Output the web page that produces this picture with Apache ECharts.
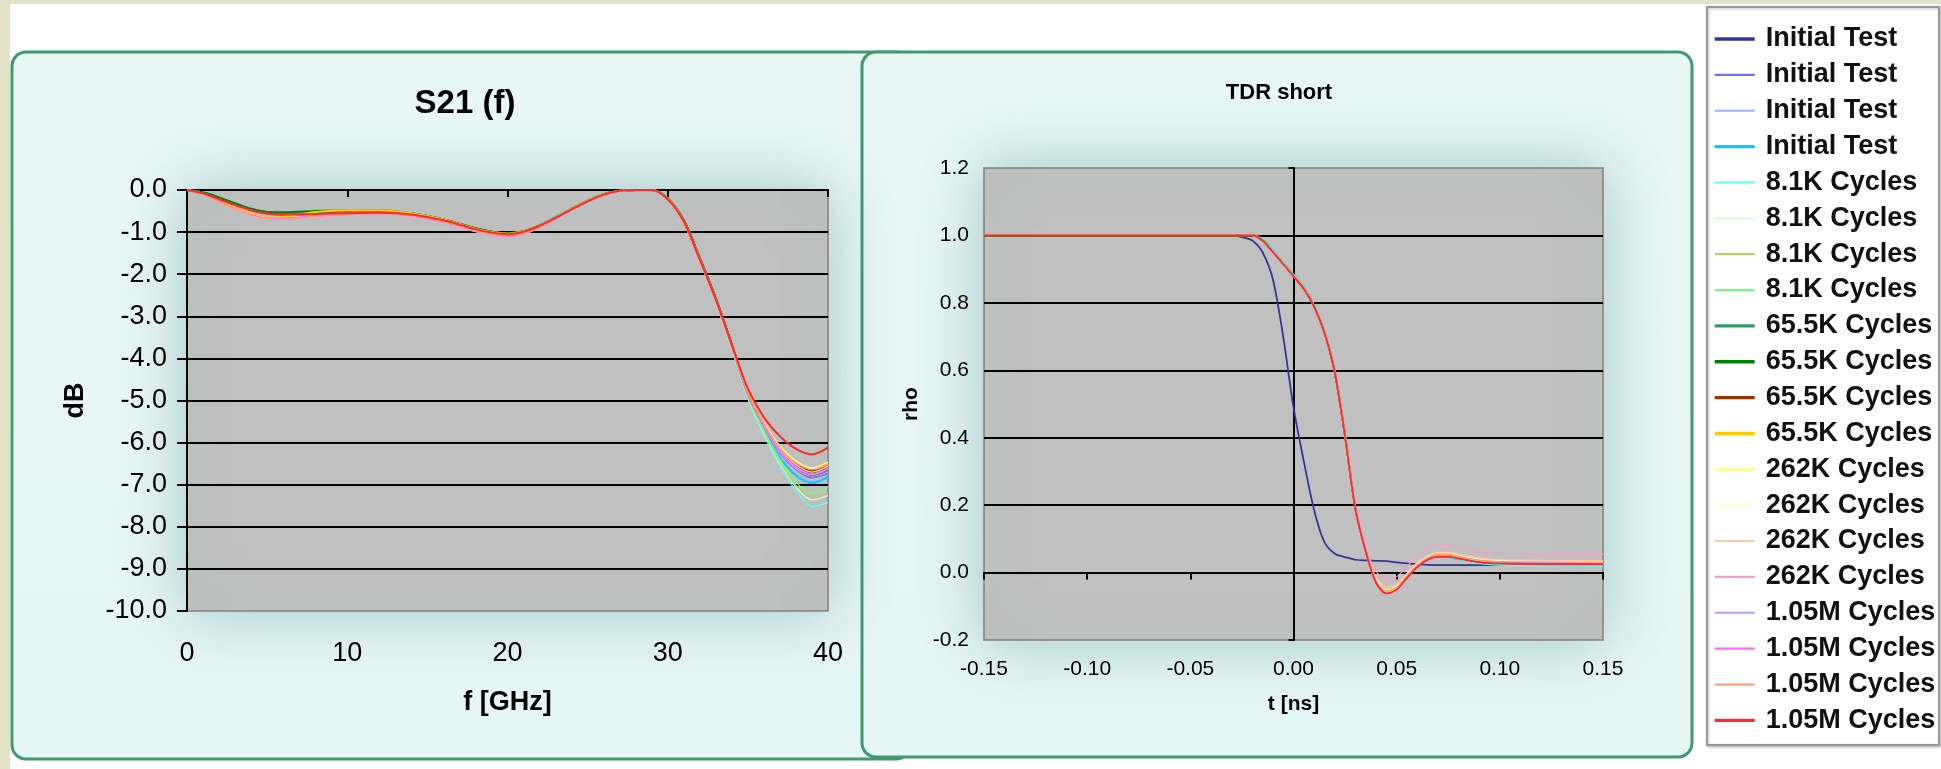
<!DOCTYPE html>
<html>
<head>
<meta charset="utf-8">
<title>S21 (f) / TDR short</title>
<script src="https://cdn.jsdelivr.net/npm/echarts@6.0.0/dist/echarts.min.js"></script>
<style>
  html, body { margin: 0; padding: 0; background: #ffffff; }
  #chart { width: 1941px; height: 769px; }
</style>
</head>
<body>
<div id="chart"></div>
<script>
// ---- Run labels (one per measurement run, shown in the legend) ----
const runLabels = [
  'Initial Test', 'Initial Test', 'Initial Test', 'Initial Test',
  '8.1K Cycles', '8.1K Cycles', '8.1K Cycles', '8.1K Cycles',
  '65.5K Cycles', '65.5K Cycles', '65.5K Cycles', '65.5K Cycles',
  '262K Cycles', '262K Cycles', '262K Cycles', '262K Cycles',
  '1.05M Cycles', '1.05M Cycles', '1.05M Cycles', '1.05M Cycles'
];

// ---- S21 insertion loss: frequency grid (GHz) ----
const freqGHz = [0, 1, 2, 3, 4, 5, 6, 8, 10, 12, 14, 16, 18, 19, 20, 21, 22, 23, 24, 25, 26, 27, 28, 29, 30, 31, 32, 33, 34, 35, 36, 37, 38, 39, 40];

// ---- S21 values (dB), one array per run ----
const s21Initial1 = [0, -0.06, -0.18, -0.32, -0.45, -0.53, -0.55, -0.54, -0.52, -0.51, -0.56, -0.70, -0.91, -0.99, -1.03, -0.98, -0.84, -0.65, -0.45, -0.26, -0.10, -0.02, 0, 0, -0.20, -0.72, -1.62, -2.58, -3.68, -4.85, -5.62, -6.22, -6.60, -6.80, -6.70];
const s21Initial2 = [0, -0.06, -0.18, -0.32, -0.45, -0.53, -0.55, -0.54, -0.52, -0.51, -0.56, -0.70, -0.91, -0.99, -1.03, -0.98, -0.84, -0.65, -0.45, -0.26, -0.10, -0.02, 0, 0, -0.20, -0.72, -1.62, -2.59, -3.70, -4.85, -5.64, -6.26, -6.64, -6.84, -6.74];
const s21Initial3 = [0, -0.08, -0.22, -0.36, -0.48, -0.56, -0.58, -0.57, -0.55, -0.54, -0.58, -0.72, -0.93, -1.01, -1.05, -0.99, -0.85, -0.66, -0.46, -0.27, -0.11, -0.02, 0, 0, -0.22, -0.75, -1.65, -2.61, -3.72, -4.88, -5.68, -6.32, -6.74, -6.92, -6.82];
const s21Initial4 = [0, -0.06, -0.18, -0.32, -0.45, -0.53, -0.55, -0.54, -0.52, -0.51, -0.56, -0.70, -0.91, -0.99, -1.03, -0.98, -0.84, -0.65, -0.45, -0.26, -0.10, -0.02, 0, 0, -0.21, -0.73, -1.63, -2.60, -3.72, -4.88, -5.70, -6.36, -6.78, -6.96, -6.82];
const s21K81a = [0, -0.08, -0.22, -0.36, -0.48, -0.56, -0.58, -0.57, -0.55, -0.54, -0.58, -0.72, -0.93, -1.01, -1.05, -0.99, -0.85, -0.66, -0.46, -0.27, -0.11, -0.02, 0, 0, -0.21, -0.74, -1.66, -2.66, -3.80, -4.96, -5.82, -6.56, -7.14, -7.52, -7.42];
const s21K81b = [0, -0.08, -0.22, -0.36, -0.48, -0.56, -0.58, -0.57, -0.55, -0.54, -0.58, -0.72, -0.93, -1.01, -1.05, -0.99, -0.85, -0.66, -0.46, -0.27, -0.11, -0.02, 0, 0, -0.21, -0.74, -1.65, -2.64, -3.77, -4.93, -5.76, -6.48, -7.06, -7.36, -7.26];
const s21K81c = [0, -0.10, -0.27, -0.44, -0.58, -0.66, -0.66, -0.61, -0.57, -0.55, -0.60, -0.75, -0.96, -1.05, -1.09, -1.03, -0.88, -0.68, -0.47, -0.28, -0.12, -0.03, 0, 0, -0.22, -0.75, -1.66, -2.64, -3.77, -4.92, -5.74, -6.46, -7.02, -7.30, -7.20];
const s21K81d = [0, -0.06, -0.18, -0.32, -0.45, -0.53, -0.55, -0.54, -0.52, -0.51, -0.56, -0.70, -0.91, -0.99, -1.03, -0.98, -0.84, -0.65, -0.45, -0.26, -0.10, -0.02, 0, 0, -0.20, -0.73, -1.64, -2.63, -3.76, -4.90, -5.70, -6.40, -6.94, -7.20, -7.06];
const s21K655a = [0, -0.06, -0.18, -0.32, -0.45, -0.53, -0.55, -0.54, -0.52, -0.51, -0.56, -0.70, -0.91, -0.99, -1.03, -0.98, -0.84, -0.65, -0.45, -0.26, -0.10, -0.02, 0, 0, -0.20, -0.72, -1.62, -2.58, -3.69, -4.84, -5.60, -6.20, -6.58, -6.76, -6.64];
const s21K655b = [0, -0.06, -0.18, -0.32, -0.45, -0.52, -0.53, -0.50, -0.48, -0.48, -0.55, -0.70, -0.91, -0.99, -1.03, -0.98, -0.84, -0.65, -0.45, -0.26, -0.10, -0.02, 0, 0, -0.20, -0.72, -1.62, -2.58, -3.68, -4.83, -5.58, -6.17, -6.55, -6.72, -6.60];
const s21K655c = [0, -0.08, -0.22, -0.36, -0.48, -0.56, -0.58, -0.57, -0.55, -0.54, -0.58, -0.72, -0.93, -1.01, -1.05, -0.99, -0.85, -0.66, -0.46, -0.27, -0.11, -0.02, 0, 0, -0.22, -0.75, -1.65, -2.60, -3.70, -4.82, -5.56, -6.14, -6.50, -6.68, -6.56];
const s21K655d = [0, -0.09, -0.25, -0.42, -0.56, -0.66, -0.64, -0.52, -0.48, -0.48, -0.55, -0.70, -0.92, -1.00, -1.04, -0.98, -0.84, -0.65, -0.45, -0.26, -0.10, -0.02, 0, 0, -0.21, -0.74, -1.64, -2.60, -3.70, -4.80, -5.53, -6.10, -6.45, -6.63, -6.50];
const s21K262a = [0, -0.10, -0.27, -0.44, -0.58, -0.66, -0.66, -0.61, -0.57, -0.55, -0.60, -0.75, -0.96, -1.05, -1.09, -1.03, -0.88, -0.68, -0.47, -0.28, -0.12, -0.03, 0, 0, -0.23, -0.77, -1.68, -2.63, -3.72, -4.80, -5.52, -6.08, -6.43, -6.60, -6.46];
const s21K262b = [0, -0.10, -0.27, -0.44, -0.58, -0.66, -0.66, -0.61, -0.57, -0.55, -0.60, -0.75, -0.96, -1.05, -1.09, -1.03, -0.88, -0.68, -0.47, -0.28, -0.12, -0.03, 0, 0, -0.23, -0.77, -1.68, -2.63, -3.72, -4.80, -5.53, -6.10, -6.45, -6.62, -6.50];
const s21K262c = [0, -0.10, -0.27, -0.44, -0.58, -0.66, -0.66, -0.61, -0.57, -0.55, -0.60, -0.75, -0.96, -1.05, -1.09, -1.03, -0.88, -0.68, -0.47, -0.28, -0.12, -0.03, 0, 0, -0.23, -0.77, -1.68, -2.63, -3.73, -4.82, -5.56, -6.15, -6.52, -6.70, -6.56];
const s21K262d = [0, -0.11, -0.28, -0.46, -0.60, -0.68, -0.68, -0.63, -0.60, -0.59, -0.63, -0.78, -0.99, -1.08, -1.11, -1.05, -0.90, -0.70, -0.48, -0.29, -0.12, -0.03, 0, 0, -0.23, -0.77, -1.68, -2.63, -3.74, -4.84, -5.60, -6.20, -6.58, -6.76, -6.62];
const s21M105a = [0, -0.08, -0.22, -0.36, -0.48, -0.56, -0.58, -0.57, -0.55, -0.54, -0.58, -0.72, -0.93, -1.01, -1.05, -0.99, -0.85, -0.66, -0.46, -0.27, -0.11, -0.02, 0, 0, -0.22, -0.75, -1.65, -2.61, -3.72, -4.85, -5.62, -6.24, -6.62, -6.80, -6.70];
const s21M105b = [0, -0.10, -0.27, -0.44, -0.58, -0.66, -0.66, -0.61, -0.57, -0.55, -0.60, -0.75, -0.96, -1.05, -1.09, -1.03, -0.88, -0.68, -0.47, -0.28, -0.12, -0.03, 0, 0, -0.23, -0.77, -1.68, -2.63, -3.73, -4.84, -5.60, -6.20, -6.56, -6.74, -6.60];
const s21M105c = [0, -0.10, -0.27, -0.44, -0.58, -0.68, -0.70, -0.62, -0.57, -0.55, -0.60, -0.75, -0.96, -1.05, -1.09, -1.03, -0.88, -0.68, -0.47, -0.28, -0.12, -0.03, 0, 0, -0.23, -0.77, -1.68, -2.63, -3.72, -4.81, -5.54, -6.12, -6.48, -6.64, -6.50];
const s21M105d = [0, -0.08, -0.22, -0.36, -0.48, -0.56, -0.58, -0.57, -0.55, -0.54, -0.58, -0.72, -0.93, -1.01, -1.05, -0.99, -0.85, -0.66, -0.46, -0.27, -0.11, -0.02, 0, 0, -0.22, -0.75, -1.65, -2.60, -3.68, -4.72, -5.40, -5.85, -6.15, -6.28, -6.12];

const s21Runs = [
  s21Initial1, s21Initial2, s21Initial3, s21Initial4,
  s21K81a, s21K81b, s21K81c, s21K81d,
  s21K655a, s21K655b, s21K655c, s21K655d,
  s21K262a, s21K262b, s21K262c, s21K262d,
  s21M105a, s21M105b, s21M105c, s21M105d
];

// ---- TDR (short) : time grid (ns) ----
const timeNs = [-0.15, -0.10, -0.05, -0.03, -0.025, -0.02, -0.015, -0.01, -0.005, 0, 0.005, 0.01, 0.015, 0.02, 0.025, 0.03, 0.035, 0.04, 0.045, 0.05, 0.055, 0.06, 0.065, 0.07, 0.075, 0.08, 0.09, 0.10, 0.12, 0.15];

// ---- TDR reflection coefficient rho, one array per run ----
const tdrInitial1 = [1, 1, 1, 1, 0.995, 0.985, 0.95, 0.87, 0.70, 0.49, 0.33, 0.185, 0.09, 0.056, 0.046, 0.038, 0.036, 0.035, 0.034, 0.030, 0.027, 0.025, 0.023, 0.022, 0.022, 0.022, 0.022, 0.022, 0.022, 0.022];
const tdrInitial2 = [1, 1, 1, 1, 1, 1, 0.986, 0.954, 0.919, 0.882, 0.845, 0.792, 0.715, 0.597, 0.407, 0.192, 0.064, -0.028, -0.060, -0.049, -0.015, 0.018, 0.039, 0.048, 0.048, 0.042, 0.031, 0.027, 0.026, 0.025];
const tdrInitial3 = [1, 1, 1, 1, 1, 1, 0.987, 0.955, 0.92, 0.883, 0.846, 0.792, 0.716, 0.598, 0.408, 0.193, 0.065, -0.027, -0.059, -0.048, -0.014, 0.019, 0.040, 0.048, 0.047, 0.041, 0.030, 0.026, 0.024, 0.023];
const tdrInitial4 = [1, 1, 1, 1, 1, 1, 0.988, 0.957, 0.922, 0.885, 0.847, 0.793, 0.716, 0.598, 0.408, 0.192, 0.064, -0.028, -0.060, -0.049, -0.015, 0.018, 0.038, 0.047, 0.046, 0.040, 0.028, 0.024, 0.022, 0.021];
const tdrK81a = [1, 1, 1, 1, 1, 1, 0.988, 0.957, 0.922, 0.884, 0.846, 0.792, 0.715, 0.596, 0.406, 0.190, 0.063, -0.029, -0.061, -0.050, -0.016, 0.017, 0.038, 0.047, 0.046, 0.040, 0.027, 0.022, 0.020, 0.019];
const tdrK81b = [1, 1, 1, 1, 1, 1, 0.986, 0.953, 0.918, 0.881, 0.844, 0.790, 0.714, 0.596, 0.406, 0.191, 0.064, -0.028, -0.060, -0.049, -0.015, 0.018, 0.039, 0.048, 0.048, 0.043, 0.032, 0.028, 0.027, 0.026];
const tdrK81c = [1, 1, 1, 1, 1, 1, 0.986, 0.953, 0.918, 0.880, 0.843, 0.790, 0.714, 0.595, 0.405, 0.190, 0.063, -0.029, -0.061, -0.050, -0.016, 0.017, 0.038, 0.047, 0.047, 0.042, 0.031, 0.027, 0.026, 0.025];
const tdrK81d = [1, 1, 1, 1, 1, 1, 0.987, 0.955, 0.920, 0.882, 0.845, 0.791, 0.715, 0.596, 0.406, 0.191, 0.064, -0.028, -0.060, -0.049, -0.015, 0.018, 0.039, 0.048, 0.047, 0.042, 0.030, 0.026, 0.025, 0.024];
const tdrK655a = [1, 1, 1, 1, 1, 1, 0.985, 0.952, 0.917, 0.880, 0.843, 0.790, 0.713, 0.595, 0.405, 0.190, 0.065, -0.028, -0.060, -0.048, -0.014, 0.018, 0.039, 0.048, 0.048, 0.043, 0.032, 0.028, 0.027, 0.025];
const tdrK655b = [1, 1, 1, 1, 1, 1, 0.985, 0.952, 0.917, 0.880, 0.843, 0.790, 0.713, 0.595, 0.405, 0.190, 0.065, -0.028, -0.060, -0.048, -0.014, 0.018, 0.039, 0.048, 0.048, 0.043, 0.032, 0.028, 0.027, 0.026];
const tdrK655c = [1, 1, 1, 1, 1, 1, 0.985, 0.951, 0.916, 0.879, 0.842, 0.789, 0.712, 0.594, 0.404, 0.190, 0.065, -0.028, -0.061, -0.049, -0.015, 0.018, 0.039, 0.048, 0.048, 0.043, 0.032, 0.028, 0.027, 0.026];
const tdrK655d = [1, 1, 1, 1, 1, 1, 0.986, 0.953, 0.918, 0.881, 0.844, 0.791, 0.714, 0.596, 0.406, 0.191, 0.065, -0.027, -0.059, -0.047, -0.013, 0.019, 0.040, 0.049, 0.049, 0.044, 0.033, 0.029, 0.028, 0.027];
const tdrK262a = [1, 1, 1, 1, 1, 1, 0.986, 0.953, 0.918, 0.881, 0.844, 0.791, 0.714, 0.596, 0.406, 0.192, 0.067, -0.024, -0.055, -0.044, -0.010, 0.022, 0.043, 0.052, 0.052, 0.047, 0.036, 0.032, 0.031, 0.030];
const tdrK262b = [1, 1, 1, 1, 1, 1, 0.985, 0.952, 0.917, 0.880, 0.843, 0.790, 0.713, 0.595, 0.405, 0.192, 0.068, -0.020, -0.050, -0.040, -0.006, 0.026, 0.046, 0.055, 0.055, 0.050, 0.040, 0.036, 0.034, 0.033];
const tdrK262c = [1, 1, 1, 1, 1, 1, 0.985, 0.952, 0.917, 0.880, 0.843, 0.790, 0.713, 0.595, 0.406, 0.194, 0.071, -0.014, -0.042, -0.035, -0.002, 0.030, 0.050, 0.060, 0.060, 0.055, 0.043, 0.038, 0.036, 0.035];
const tdrK262d = [1, 1, 1, 1, 1, 1, 0.985, 0.952, 0.917, 0.880, 0.843, 0.790, 0.714, 0.597, 0.410, 0.200, 0.077, 0.004, -0.020, -0.012, 0.018, 0.050, 0.072, 0.084, 0.083, 0.075, 0.062, 0.057, 0.055, 0.054];
const tdrM105a = [1, 1, 1, 1, 1, 1, 0.985, 0.952, 0.917, 0.880, 0.843, 0.790, 0.713, 0.595, 0.405, 0.190, 0.064, -0.028, -0.062, -0.050, -0.014, 0.020, 0.042, 0.053, 0.053, 0.047, 0.036, 0.031, 0.030, 0.029];
const tdrM105b = [1, 1, 1, 1, 1, 1, 0.985, 0.952, 0.917, 0.880, 0.843, 0.790, 0.713, 0.595, 0.405, 0.190, 0.063, -0.029, -0.062, -0.051, -0.016, 0.017, 0.038, 0.047, 0.047, 0.042, 0.031, 0.027, 0.026, 0.025];
const tdrM105c = [1, 1, 1, 1, 1, 1, 0.985, 0.952, 0.917, 0.880, 0.843, 0.790, 0.713, 0.595, 0.405, 0.191, 0.066, -0.024, -0.054, -0.043, -0.009, 0.023, 0.044, 0.054, 0.054, 0.048, 0.037, 0.033, 0.032, 0.031];
const tdrM105d = [1, 1, 1, 1, 1, 1, 0.985, 0.951, 0.916, 0.879, 0.842, 0.789, 0.712, 0.594, 0.404, 0.189, 0.063, -0.029, -0.062, -0.050, -0.015, 0.017, 0.038, 0.047, 0.047, 0.042, 0.031, 0.027, 0.026, 0.025];

const tdrRuns = [
  tdrInitial1, tdrInitial2, tdrInitial3, tdrInitial4,
  tdrK81a, tdrK81b, tdrK81c, tdrK81d,
  tdrK655a, tdrK655b, tdrK655c, tdrK655d,
  tdrK262a, tdrK262b, tdrK262c, tdrK262d,
  tdrM105a, tdrM105b, tdrM105c, tdrM105d
];

// ---- Axis ranges / tick steps ----
const s21FreqAxis = { min: 0, max: 40, step: 10 };
const s21DbAxis = { min: -10, max: 0, step: 1 };
const tdrTimeAxis = { min: -0.15, max: 0.15, step: 0.05 };
const tdrRhoAxis = { min: -0.2, max: 1.2, step: 0.2 };

// ---- Line styling per run ----
const runColors = [
  '#333399', '#6f6ff2', '#99b4ff', '#00ccff',
  '#66ffff', '#d6ffd6', '#bfcf66', '#70ff70',
  '#339966', '#008000', '#993300', '#ffcc00',
  '#ffff66', '#ffffcc', '#ffcca0', '#ff99cc',
  '#c299ff', '#ff66ff', '#ff9966', '#ff2a2a'
];
const runWidths = [
  2.5, 1.6, 1.6, 2.5,
  1.6, 1.6, 1.6, 1.6,
  2.5, 2.5, 2.5, 2.5,
  1.6, 1.6, 1.6, 1.6,
  1.6, 1.6, 1.6, 2.5
];

// ---- Chart ----
const FONT = "'Liberation Sans', Arial, sans-serif";
const NARROW = "'Liberation Sans Narrow', 'Arial Narrow', 'Liberation Sans', sans-serif";
const clean = v => (Math.abs(v) < 1e-9 ? 0 : v);
const seriesName = i => runLabels[i] + ' #' + (i + 1);

const chart = echarts.init(document.getElementById('chart'), null, { renderer: 'canvas' });

const panelFill = {
  type: 'linear', x: 0, y: 0, x2: 0, y2: 1,
  colorStops: [{ offset: 0, color: '#e8f6f6' }, { offset: 1, color: '#e6f5f5' }]
};

const series = [];
s21Runs.forEach((vals, i) => {
  series.push({
    name: seriesName(i), type: 'line', xAxisIndex: 0, yAxisIndex: 0,
    data: freqGHz.map((f, k) => [f, vals[k]]),
    symbol: 'none', smooth: 0.3, clip: true,
    lineStyle: { color: runColors[i], width: runWidths[i] * 0.8 },
    itemStyle: { color: runColors[i] },
    emphasis: { disabled: true }, silent: true
  });
});
tdrRuns.forEach((vals, i) => {
  series.push({
    name: seriesName(i), type: 'line', xAxisIndex: 2, yAxisIndex: 2,
    data: timeNs.map((t, k) => [t, vals[k]]),
    symbol: 'none', smooth: 0.3, clip: true,
    lineStyle: { color: runColors[i], width: runWidths[i] * 0.7 },
    itemStyle: { color: runColors[i] },
    emphasis: { disabled: true }, silent: true
  });
});

const option = {
  animation: false,
  backgroundColor: '#ffffff',
  graphic: [
    // page edges
    { type: 'rect', z: -20, shape: { x: 0, y: 0, width: 1941, height: 4 }, style: { fill: '#e2e2c9' } },
    { type: 'rect', z: -20, shape: { x: 0, y: 0, width: 10, height: 769 }, style: { fill: '#e2e2c9' } },
    // S21 panel
    { type: 'rect', z: -10, shape: { x: 12, y: 52, width: 898, height: 707, r: 14 },
      style: { fill: panelFill, stroke: '#3f9a6c', lineWidth: 3 } },
    // TDR panel (overlaps the S21 panel)
    { type: 'rect', z: -9, shape: { x: 862, y: 52, width: 830, height: 705, r: 14 },
      style: { fill: panelFill, stroke: '#3f9a6c', lineWidth: 3 } },
    // legend frame
    { type: 'rect', z: -9, shape: { x: 1707, y: 7, width: 232, height: 738 },
      style: { fill: '#ffffff', stroke: '#9a9a9a', lineWidth: 2, shadowBlur: 3, shadowColor: 'rgba(0,0,0,0.25)', shadowOffsetX: 1, shadowOffsetY: 1 } },
    // panel titles
    { type: 'text', z: 10, x: 465, y: 104,
      style: { text: 'S21 (f)', fill: '#000', font: 'bold 33px ' + FONT, align: 'center', verticalAlign: 'middle' } },
    { type: 'text', z: 10, x: 1279, y: 93,
      style: { text: 'TDR short', fill: '#000', font: 'bold 22px ' + FONT, align: 'center', verticalAlign: 'middle' } }
  ],
  legend: {
    orient: 'vertical',
    left: 1713, top: 24, padding: 0,
    itemWidth: 40, itemHeight: 14, itemGap: 5.86,
    selectedMode: false,
    data: runLabels.map((_, i) => ({
      name: seriesName(i),
      itemStyle: { opacity: 0, color: 'rgba(0,0,0,0)', borderWidth: 0 },
      lineStyle: { color: runColors[i], width: runWidths[i] * 1.35 }
    })),
    formatter: name => name.replace(/ #\d+$/, ''),
    textStyle: { fontFamily: FONT, fontSize: 27, fontWeight: 'bold', color: '#111', lineHeight: 30, padding: [0, 0, 0, 6] }
  },
  grid: [
    { left: 187, top: 190, width: 641, height: 421, show: true, backgroundColor: '#c0c0c0',
      borderColor: '#808080', borderWidth: 1.5, shadowBlur: 60, shadowColor: 'rgba(80,140,140,0.45)' },
    { left: 984, top: 168, width: 619, height: 472, show: true, backgroundColor: '#c0c0c0',
      borderColor: '#808080', borderWidth: 1.5, shadowBlur: 60, shadowColor: 'rgba(80,140,140,0.45)' }
  ],
  xAxis: [
    // S21: labels along the bottom edge
    { type: 'value', gridIndex: 0, position: 'bottom',
      min: s21FreqAxis.min, max: s21FreqAxis.max, interval: s21FreqAxis.step,
      axisLine: { show: false, onZero: false }, axisTick: { show: false }, splitLine: { show: false },
      axisLabel: { fontFamily: FONT, fontSize: 27, color: '#000', margin: 29 },
      name: 'f [GHz]', nameLocation: 'middle', nameGap: 78,
      nameTextStyle: { fontFamily: FONT, fontSize: 27, fontWeight: 'bold', color: '#000' } },
    // S21: axis line crossing at 0 dB (top edge)
    { type: 'value', gridIndex: 0, position: 'bottom',
      min: s21FreqAxis.min, max: s21FreqAxis.max, interval: s21FreqAxis.step,
      axisLine: { show: true, onZero: true, lineStyle: { color: '#000', width: 2 } },
      axisTick: { show: true, inside: false, length: 7, lineStyle: { color: '#000', width: 2 } },
      axisLabel: { show: false }, splitLine: { show: false } },
    // TDR: labels along the bottom edge
    { type: 'value', gridIndex: 1, position: 'bottom',
      min: tdrTimeAxis.min, max: tdrTimeAxis.max, interval: tdrTimeAxis.step,
      axisLine: { show: false, onZero: false }, axisTick: { show: false }, splitLine: { show: false },
      axisLabel: { fontFamily: NARROW, fontSize: 21, color: '#000', margin: 19,
        formatter: v => clean(v).toFixed(2) },
      name: 't [ns]', nameLocation: 'middle', nameGap: 54,
      nameTextStyle: { fontFamily: NARROW, fontSize: 21, fontWeight: 'bold', color: '#000' } },
    // TDR: axis line crossing at rho = 0
    { type: 'value', gridIndex: 1, position: 'bottom',
      min: tdrTimeAxis.min, max: tdrTimeAxis.max, interval: tdrTimeAxis.step,
      axisLine: { show: true, onZero: true, lineStyle: { color: '#000', width: 2 } },
      axisTick: { show: true, inside: false, length: 7, lineStyle: { color: '#000', width: 2 } },
      axisLabel: { show: false }, splitLine: { show: false } }
  ],
  yAxis: [
    // S21 dB axis
    { type: 'value', gridIndex: 0, position: 'left',
      min: s21DbAxis.min, max: s21DbAxis.max, interval: s21DbAxis.step,
      axisLine: { show: true, onZero: false, lineStyle: { color: '#000', width: 2 } },
      axisTick: { show: true, inside: false, length: 10, lineStyle: { color: '#000', width: 2 } },
      axisLabel: { fontFamily: FONT, fontSize: 27, color: '#000', margin: 20,
        formatter: v => clean(v).toFixed(1) },
      splitLine: { show: true, showMinLine: false, lineStyle: { color: '#000', width: 2 } },
      name: 'dB', nameLocation: 'middle', nameGap: 98,
      nameTextStyle: { fontFamily: FONT, fontSize: 27, fontWeight: 'bold', color: '#000' } },
    // companion axis for grid 0 (hidden)
    { type: 'value', gridIndex: 0, position: 'left', show: false,
      min: s21DbAxis.min, max: s21DbAxis.max, interval: s21DbAxis.step,
      axisLine: { onZero: false } },
    // TDR rho labels
    { type: 'value', gridIndex: 1, position: 'left',
      min: tdrRhoAxis.min, max: tdrRhoAxis.max, interval: tdrRhoAxis.step,
      axisLine: { show: false, onZero: false }, axisTick: { show: false },
      axisLabel: { fontFamily: NARROW, fontSize: 21, color: '#000', margin: 15,
        formatter: v => clean(v).toFixed(1) },
      splitLine: { show: true, showMinLine: false, showMaxLine: false, lineStyle: { color: '#000', width: 2 } },
      name: 'rho', nameLocation: 'middle', nameGap: 62,
      nameTextStyle: { fontFamily: NARROW, fontSize: 21, fontWeight: 'bold', color: '#000' } },
    // TDR: axis line crossing at t = 0
    { type: 'value', gridIndex: 1, position: 'left',
      min: tdrRhoAxis.min, max: tdrRhoAxis.max, interval: tdrRhoAxis.step,
      axisLine: { show: true, onZero: true, lineStyle: { color: '#000', width: 2 } },
      axisTick: { show: true, inside: false, length: 5, lineStyle: { color: '#000', width: 2 } },
      axisLabel: { show: false }, splitLine: { show: false } }
  ],
  series: series
};

chart.setOption(option);
</script>
</body>
</html>
